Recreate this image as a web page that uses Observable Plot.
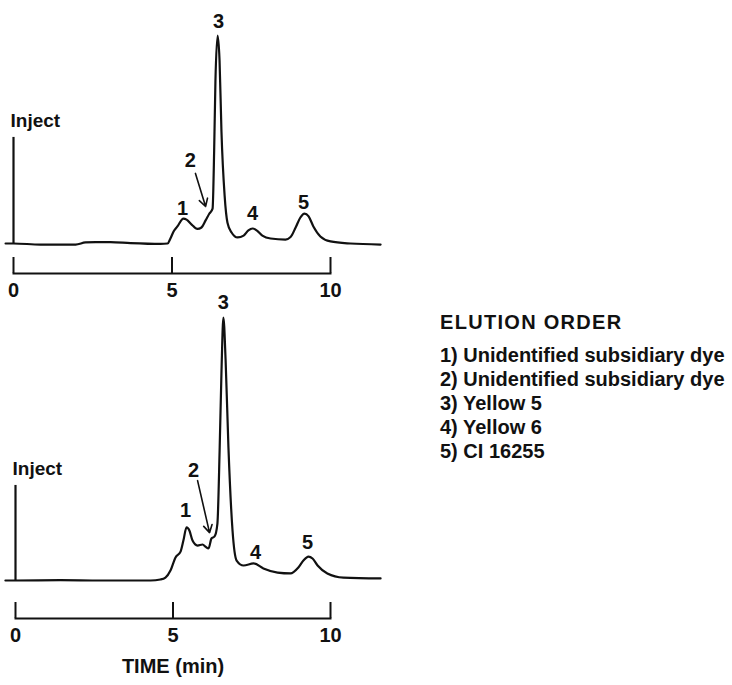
<!DOCTYPE html>
<html>
<head>
<meta charset="utf-8">
<script src="https://cdn.jsdelivr.net/npm/d3@7"></script>
<script src="https://cdn.jsdelivr.net/npm/@observablehq/plot@0.6"></script>
<style>
  body { margin: 0; background: #fff; }
  #wrap { position: relative; width: 732px; height: 685px; overflow: hidden;
          font-family: "Liberation Sans", Arial, Helvetica, sans-serif; color: #111; }
  #wrap svg { position: absolute; left: 0; background: transparent !important; overflow: visible !important; }
  #legend { position: absolute; left: 440px; top: 310px; font-weight: bold; font-size: 20px; line-height: 24px; white-space: nowrap; }
  #legend .head { letter-spacing: 1.3px; margin-bottom: 9px; }
</style>
</head>
<body>
<div id="wrap"><div id="legend"></div></div>
<script>
// ---- data (time in min, detector response in relative units) ----
const timeTop = [-0.25, 0, 0.85, 1.96, 2.27, 2.59, 3.06, 3.69, 4.64, 4.86, 4.95, 5.05, 5.17, 5.36, 5.46, 5.62, 5.80, 5.93, 6.06, 6.18, 6.28, 6.33, 6.37, 6.44, 6.50, 6.56, 6.66, 6.75, 6.88, 7.07, 7.26, 7.41, 7.54, 7.67, 7.85, 8.11, 8.58, 8.74, 8.90, 9.05, 9.18, 9.31, 9.46, 9.68, 10.0, 10.63, 11.58];
const signalTop = [0, 0, -0.5, -0.5, 0.5, 0.7, 0.7, 0.2, -0.2, 0, 2.4, 5.8, 8.2, 12.0, 11.5, 9.1, 7.0, 7.7, 11.1, 14.4, 16.8, 44.7, 78, 100, 88, 54, 23, 10, 5.3, 2.9, 3.8, 6.3, 7.2, 6.3, 3.8, 2.4, 1.9, 3.1, 7.7, 12.5, 14.4, 13, 8.2, 3.4, 1.0, 0, -0.5];

const timeBottom = [-0.32, 0, 1.43, 2.70, 4.29, 4.60, 4.76, 4.92, 5.08, 5.24, 5.33, 5.43, 5.52, 5.62, 5.78, 5.94, 6.03, 6.13, 6.22, 6.32, 6.41, 6.48, 6.54, 6.60, 6.67, 6.76, 6.89, 7.02, 7.24, 7.56, 7.87, 8.32, 8.73, 8.98, 9.14, 9.30, 9.43, 9.59, 9.90, 10.41, 11.59];
const signalBottom = [0, 0, 0.2, 0, 0, 0.5, 1.4, 4.8, 11.1, 13.9, 19.2, 25.5, 24, 19.2, 16.8, 17.3, 16.3, 15.4, 20.2, 21.2, 27.4, 62.5, 101, 126.4, 106, 64, 24, 9.6, 7.2, 8.2, 5.8, 3.8, 3.4, 6.3, 9.6, 11.5, 10.6, 7.2, 3.4, 1.4, 1.0];

const peakIds = ["1", "2", "3", "4", "5"];
const labelTimeTop = [5.33, 5.58, 6.47, 7.54, 9.15];
const labelSignalTop = [16.8, 39.9, 106.7, 14.4, 19.7];
const labelTimeBottom = [5.40, 5.65, 6.60, 7.62, 9.27];
const labelSignalBottom = [33.7, 52.9, 133.7, 13.5, 18.3];

const arrowTimeTop = [5.74, 6.06];
const arrowSignalTop = [33.7, 17.8];
const arrowTimeBottom = [5.78, 6.16];
const arrowSignalBottom = [48, 23];

const injectSignalTop = 51;
const injectSignalBottom = 45.7;

const axisTicks = [0, 5, 10];
const axisTitle = "TIME (min)";
const legendTitle = "ELUTION ORDER";
const elutionOrder = [
  "1) Unidentified subsidiary dye",
  "2) Unidentified subsidiary dye",
  "3) Yellow 5",
  "4) Yellow 6",
  "5) CI 16255"
];

// ---- drawing ----
const INK = "#111";
const FONT = "'Liberation Sans', Arial, Helvetica, sans-serif";

function panel(o) {
  const trace = o.times.map((t, i) => ({t, s: o.signals[i]}));
  const labels = peakIds.map((id, i) => ({id, t: o.labelT[i], s: o.labelS[i]}));
  const marks = [
    Plot.line(trace, {x: "t", y: "s", curve: "monotone-x", stroke: INK, strokeWidth: 2.2, strokeLinejoin: "round"}),
    Plot.ruleX([0], {y1: 0, y2: o.inject, stroke: INK, strokeWidth: 2.2}),
    Plot.text(["Inject"], {x: 0, y: o.inject, dy: -17, dx: -3, textAnchor: "start", fontSize: 19, fontWeight: "bold", fill: INK, fontFamily: FONT}),
    Plot.text(labels, {x: "t", y: "s", text: "id", fontSize: 20, fontWeight: "bold", fill: INK, fontFamily: FONT}),
    Plot.arrow([0], {x1: o.arrowT[0], y1: o.arrowS[0], x2: o.arrowT[1], y2: o.arrowS[1], headLength: 8, stroke: INK, strokeWidth: 1.6}),
    Plot.frame({anchor: "bottom", stroke: INK, strokeWidth: 2}),
    Plot.ruleX(axisTicks, {insetTop: o.tickInset, stroke: INK, strokeWidth: 2}),
    Plot.axisX({ticks: axisTicks, tickSize: 0, tickPadding: 9, fontSize: 20, fontWeight: "bold", fill: INK, fontFamily: FONT, label: null, tickFormat: d => String(d)})
  ];
  if (o.title) {
    marks.push(Plot.text([o.title], {x: 5, frameAnchor: "bottom", dy: 54, fontSize: 20, fontWeight: "bold", fill: INK, fontFamily: FONT}));
  }
  const svg = Plot.plot({
    width: 400,
    height: o.height,
    marginLeft: o.marginLeft,
    marginRight: 70,
    marginTop: o.marginTop,
    marginBottom: o.marginBottom,
    x: {domain: [0, 10], label: null},
    y: {domain: [0, 100], range: o.yRange, axis: null, label: null},
    style: {fontFamily: FONT, color: INK},
    marks
  });
  svg.style.top = o.top + "px";
  return svg;
}

const wrap = document.getElementById("wrap");
wrap.appendChild(panel({
  top: 0, height: 300, marginLeft: 13, marginTop: 35, marginBottom: 27, yRange: [243, 35], tickInset: 222,
  times: timeTop, signals: signalTop, labelT: labelTimeTop, labelS: labelSignalTop,
  arrowT: arrowTimeTop, arrowS: arrowSignalTop, inject: injectSignalTop
}));
wrap.appendChild(panel({
  top: 300, height: 385, marginLeft: 15, marginTop: 17, marginBottom: 67, yRange: [280, 72], tickInset: 285,
  times: timeBottom, signals: signalBottom, labelT: labelTimeBottom, labelS: labelSignalBottom,
  arrowT: arrowTimeBottom, arrowS: arrowSignalBottom, inject: injectSignalBottom, title: axisTitle
}));

const legend = document.getElementById("legend");
const head = document.createElement("div");
head.className = "head";
head.textContent = legendTitle;
legend.appendChild(head);
for (const item of elutionOrder) {
  const d = document.createElement("div");
  d.textContent = item;
  legend.appendChild(d);
}
</script>
</body>
</html>
